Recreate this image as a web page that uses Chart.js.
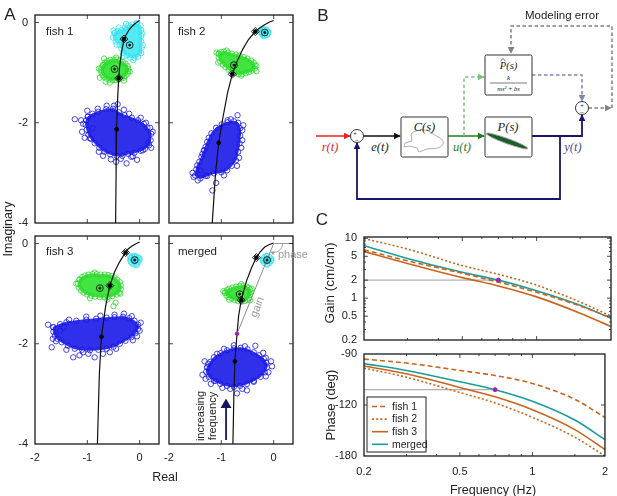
<!DOCTYPE html>
<html>
<head>
<meta charset="utf-8">
<script src="https://cdn.jsdelivr.net/npm/chart.js@4.4.1/dist/chart.umd.min.js"></script>
<style>
body { margin: 0; background: #fff; width: 617px; height: 496px; position: relative; overflow: hidden;
       font-family: "Liberation Sans", Arial, sans-serif; color: #222; }
canvas, svg { position: absolute; left: 0; top: 0; }
.t { position: absolute; white-space: nowrap; line-height: 1; }
.c { transform: translate(-50%, -50%); }
.l { transform: translate(0, -50%); }
</style>
</head>
<body>

<svg width="617" height="496" viewBox="0 0 617 496">
  <defs>
    <marker id="aRed" viewBox="0 0 10 10" refX="9" refY="5" markerWidth="7" markerHeight="7" markerUnits="userSpaceOnUse" orient="auto"><path d="M0,0 L10,5 L0,10 z" fill="#e8231f"/></marker>
    <marker id="aBlk" viewBox="0 0 10 10" refX="9" refY="5" markerWidth="7" markerHeight="7" markerUnits="userSpaceOnUse" orient="auto"><path d="M0,0 L10,5 L0,10 z" fill="#111"/></marker>
    <marker id="aGrn" viewBox="0 0 10 10" refX="9" refY="5" markerWidth="7" markerHeight="7" markerUnits="userSpaceOnUse" orient="auto"><path d="M0,0 L10,5 L0,10 z" fill="#1f7a1f"/></marker>
    <marker id="aLgr" viewBox="0 0 10 10" refX="9" refY="5" markerWidth="7" markerHeight="7" markerUnits="userSpaceOnUse" orient="auto"><path d="M0,0 L10,5 L0,10 z" fill="#80bf80"/></marker>
    <marker id="aNav" viewBox="0 0 10 10" refX="9" refY="5" markerWidth="7" markerHeight="7" markerUnits="userSpaceOnUse" orient="auto"><path d="M0,0 L10,5 L0,10 z" fill="#16166b"/></marker>
    <marker id="aPur" viewBox="0 0 10 10" refX="9" refY="5" markerWidth="7" markerHeight="7" markerUnits="userSpaceOnUse" orient="auto"><path d="M0,0 L10,5 L0,10 z" fill="#8484b8"/></marker>
    <marker id="aGry" viewBox="0 0 10 10" refX="9" refY="5" markerWidth="7" markerHeight="7" markerUnits="userSpaceOnUse" orient="auto"><path d="M0,0 L10,5 L0,10 z" fill="#808080"/></marker>
  </defs>
  <g fill="none" stroke-width="1.5">
    <path d="M316 136 H350" stroke="#e8231f" marker-end="url(#aRed)"/>
    <path d="M363.5 136 H400" stroke="#111" marker-end="url(#aBlk)"/>
    <path d="M448 136 H484" stroke="#1f7a1f" marker-end="url(#aGrn)"/>
    <path d="M464 136 V77 H484" stroke="#80bf80" stroke-dasharray="3.5 2.5" marker-end="url(#aLgr)"/>
    <path d="M532 136 H582 V115" stroke="#16166b" stroke-width="1.8" marker-end="url(#aNav)"/>
    <path d="M560 136 V199 H357 V143" stroke="#16166b" stroke-width="1.8" marker-end="url(#aNav)"/>
    <path d="M532 75 H582 V101" stroke="#8484b8" stroke-dasharray="3.5 2.5" marker-end="url(#aPur)"/>
    <path d="M588.5 108 H611" stroke="#808080" stroke-dasharray="3.5 2.5" marker-end="url(#aGry)"/>
    <path d="M612 108 V26 H511 V53" stroke="#808080" stroke-dasharray="3.5 2.5" marker-end="url(#aGry)"/>
  </g>
  <g fill="#fff" stroke="#333" stroke-width="1">
    <rect x="485" y="55" width="47" height="40" rx="1.5"/>
    <rect x="401" y="117" width="47" height="40" rx="1.5"/>
    <rect x="485" y="117" width="47" height="40" rx="1.5"/>
    <circle cx="357" cy="136" r="6.5"/>
    <circle cx="582" cy="108" r="6.5"/>
  </g>
  <g font-family="'Liberation Sans', Arial, sans-serif" font-size="6" fill="#222" text-anchor="middle">
    <text x="355" y="135">+</text><text x="357" y="142">−</text>
    <text x="582" y="107">+</text><text x="582" y="114">−</text>
  </g>
  <path d="M411 134 C417 128 428 129 433 134 L440 138 C445 141 444 146 438 148 L427 149 L419 152 L417 148 L410 146 L404 147 L405 143 L412 141 Z"
        fill="none" stroke="#9a9a9a" stroke-width="0.8"/>
  <ellipse cx="507" cy="141" rx="22" ry="2.6" transform="rotate(20 507 141)" fill="#1d5e2a" stroke="#aaa" stroke-width="0.8"/>
  <g font-family="'Liberation Serif', 'DejaVu Serif', serif" font-style="italic" text-anchor="middle">
    <text x="424.5" y="131" font-size="12.5" fill="#222">C(s)</text>
    <text x="508" y="131" font-size="12.5" fill="#222">P(s)</text>
    <text x="508.5" y="69" font-size="10.5" fill="#222">P(s)</text>
    <text x="508.5" y="80" font-size="7" fill="#222">k</text>
    <text x="508.5" y="91" font-size="6.5" fill="#222">ms² + bs</text>
    <text x="330" y="151" font-size="12.5" fill="#e8231f">r(t)</text>
    <text x="380" y="151" font-size="12.5" fill="#222">e(t)</text>
    <text x="462" y="151" font-size="12.5" fill="#1f7a1f">u(t)</text>
    <text x="573" y="151" font-size="12.5" fill="#4a4aa0">y(t)</text>
  </g>
  <path d="M500.5 61 L503 58.6 L505.5 61" fill="none" stroke="#222" stroke-width="0.7"/>
  <path d="M490 83 H527" stroke="#222" stroke-width="0.6"/>
</svg>

<canvas id="aFish1" width="617" height="496"></canvas>
<canvas id="aFish2" width="617" height="496"></canvas>
<canvas id="aFish3" width="617" height="496"></canvas>
<canvas id="aMerged" width="617" height="496"></canvas>
<canvas id="cGain" width="617" height="496"></canvas>
<canvas id="cPhase" width="617" height="496"></canvas>

<div class="t c" style="left:10px;top:14px;font-size:17px">A</div>
<div class="t c" style="left:323px;top:15px;font-size:17px">B</div>
<div class="t c" style="left:322px;top:219px;font-size:17px">C</div>
<div class="t l" style="left:46px;top:32px;font-size:11.5px">fish 1</div>
<div class="t l" style="left:178px;top:32px;font-size:11.5px">fish 2</div>
<div class="t l" style="left:46px;top:252px;font-size:11.5px">fish 3</div>
<div class="t l" style="left:178px;top:252px;font-size:11.5px">merged</div>
<div class="t c" style="left:8px;top:229px;font-size:12.5px;transform:translate(-50%,-50%) rotate(-90deg)">Imaginary</div>
<div class="t c" style="left:165px;top:477px;font-size:12.5px">Real</div>
<div class="t l" style="left:278px;top:254px;font-size:11px;color:#999">phase</div>
<div class="t c" style="left:257px;top:307px;font-size:11px;color:#999;transform:translate(-50%,-50%) rotate(-68deg)">gain</div>
<div class="t c" style="left:200px;top:416px;font-size:11px;transform:translate(-50%,-50%) rotate(-90deg)">increasing</div>
<div class="t c" style="left:212px;top:416px;font-size:11px;transform:translate(-50%,-50%) rotate(-90deg)">frequency</div>
<div class="t c" style="left:562px;top:16px;font-size:11.5px">Modeling error</div>
<div class="t c" style="left:330px;top:283px;font-size:13.5px;transform:translate(-50%,-50%) rotate(-90deg)">Gain (cm/cm)</div>
<div class="t c" style="left:330px;top:405px;font-size:13px;transform:translate(-50%,-50%) rotate(-90deg)">Phase (deg)</div>
<div class="t c" style="left:493px;top:490px;font-size:12.5px">Frequency (Hz)</div>

<script>
// ---- panel C: Bode data ----
const freqHz = [0.2, 0.3, 0.5, 0.7, 1, 1.5, 2];
const gainFish1 = [6.4, 4.2, 2.6, 1.85, 1.25, 0.74, 0.47];
const gainFish2 = [9.9, 6.6, 3.5, 2.5, 1.65, 0.86, 0.5];
const gainFish3 = [6.0, 3.8, 2.2, 1.6, 1.05, 0.56, 0.335];
const gainMerged = [7.5, 4.6, 2.7, 2.0, 1.33, 0.76, 0.46];
const phaseFish1 = [-94.5, -98, -104.5, -109, -116, -130, -146];
const phaseFish2 = [-102.4, -110.5, -124, -133.2, -145.9, -163.4, -180];
const phaseFish3 = [-100.6, -107.5, -119.6, -127.8, -139.2, -156.7, -174.3];
const phaseMerged = [-98.5, -104.5, -114.5, -121.5, -131.7, -148.3, -165.5];
const markFreq = 0.7;
const markGain = 2;
const markPhase = -121.5;

const gainTickLabels = [0.2, 0.5, 1, 2, 5, 10];
const freqTickLabels = [0.2, 0.5, 1, 2];
const phaseTickValues = [-180, -135, -90];
const phaseTickLabels = ['-180', '-120', '-90'];
const realTicks = [-2, -1, 0];
const imagTicks = [-4, -2, 0];

// ---- panel A: complex plane data [real, imag] ----
const fish1Curve = [[0,0.04],[-0.06,0.0],[-0.13,-0.06],[-0.20,-0.14],[-0.26,-0.25],[-0.30,-0.35],[-0.34,-0.55],[-0.38,-0.85],[-0.40,-1.11],[-0.42,-1.5],[-0.44,-2.13],[-0.45,-3.0],[-0.46,-4.1]];
const fish1Dots = [[-0.30,-0.33],[-0.40,-1.11],[-0.44,-2.13]];
const fish1Diamonds = [[-0.30,-0.33],[-0.40,-1.11]];
const fish1Means = [[-0.19,-0.45],[-0.48,-0.93]];
const fish1BluePoly = [[-0.99,-1.88],[-0.90,-1.82],[-0.79,-1.78],[-0.64,-1.73],[-0.51,-1.72],[-0.40,-1.79],[-0.29,-1.85],[-0.15,-1.90],[-0.03,-1.95],[0.08,-2.02],[0.15,-2.10],[0.22,-2.22],[0.21,-2.35],[0.18,-2.45],[0.10,-2.52],[0.02,-2.56],[-0.10,-2.60],[-0.22,-2.62],[-0.33,-2.66],[-0.44,-2.66],[-0.56,-2.63],[-0.67,-2.58],[-0.77,-2.50],[-0.86,-2.41],[-0.93,-2.32],[-0.98,-2.24],[-1.01,-2.14],[-1.03,-2.04],[-1.02,-1.95]];
const fish1BlueOut = [[-1.24,-1.93],[-0.25,-2.81],[-0.49,-1.66],[-0.63,-1.66],[-1.08,-2.02],[-0.95,-2.31],[-0.70,-2.66],[-0.36,-2.72],[-0.13,-2.67],[0.06,-2.55],[0.25,-2.18],[0.12,-2.00],[-0.80,-1.72],[-0.90,-2.11],[-0.42,-1.63],[-1.10,-2.18],[0.17,-2.40],[-0.55,-2.73],[0.02,-1.90],[-0.20,-1.82],[-1.05,-2.30],[-0.16,-2.68],[-1.0,-1.76],[-0.30,-1.74],[0.20,-2.10],[0.22,-2.50],[-0.78,-2.58],[-0.45,-2.78],[-1.12,-1.95],[-0.05,-2.74]];
const fish1GreenPoly = [[-0.70,-0.85],[-0.66,-0.80],[-0.62,-0.77],[-0.56,-0.75],[-0.50,-0.74],[-0.44,-0.74],[-0.38,-0.76],[-0.32,-0.79],[-0.27,-0.82],[-0.23,-0.87],[-0.22,-0.92],[-0.22,-0.97],[-0.23,-1.02],[-0.27,-1.06],[-0.30,-1.10],[-0.35,-1.12],[-0.40,-1.14],[-0.46,-1.15],[-0.52,-1.15],[-0.58,-1.14],[-0.63,-1.12],[-0.68,-1.08],[-0.71,-1.05],[-0.73,-1.00],[-0.74,-0.95],[-0.73,-0.90]];
const fish1GreenOut = [[-0.76,-1.10],[-0.68,-0.72],[-0.30,-1.16],[-0.78,-0.92],[-0.45,-0.70],[-0.19,-0.98],[-0.57,-1.20],[-0.65,-1.18]];
const fish1CyanPoly = [[-0.48,-0.21],[-0.42,-0.17],[-0.35,-0.15],[-0.28,-0.10],[-0.22,-0.06],[-0.14,-0.04],[-0.06,-0.03],[0.02,-0.06],[0.03,-0.15],[0.03,-0.27],[0.03,-0.38],[0.04,-0.50],[0.03,-0.61],[-0.03,-0.68],[-0.10,-0.71],[-0.18,-0.70],[-0.25,-0.66],[-0.32,-0.61],[-0.35,-0.52],[-0.38,-0.45],[-0.46,-0.38],[-0.51,-0.30]];
const fish1CyanOut = [[-0.50,-0.16],[-0.40,-0.10],[-0.05,0.00],[0.05,-0.22],[0.06,-0.45],[-0.12,-0.75],[-0.30,-0.67],[-0.44,-0.44],[-0.26,-0.03]];

const fish2Curve = [[0,0.04],[-0.08,0.01],[-0.18,-0.05],[-0.28,-0.12],[-0.35,-0.18],[-0.48,-0.34],[-0.60,-0.55],[-0.70,-0.78],[-0.79,-1.03],[-0.88,-1.4],[-0.97,-1.9],[-1.05,-2.4],[-1.11,-3.0],[-1.18,-4.1]];
const fish2Dots = [[-0.35,-0.18],[-0.79,-1.03],[-1.05,-2.4]];
const fish2Diamonds = [[-0.35,-0.18],[-0.79,-1.03]];
const fish2Means = [[-0.17,-0.2],[-0.76,-0.85]];
const fish2BluePoly = [[-1.33,-2.55],[-1.27,-2.38],[-1.19,-2.21],[-1.10,-2.10],[-0.99,-2.03],[-0.88,-1.99],[-0.76,-1.97],[-0.68,-2.00],[-0.64,-2.11],[-0.64,-2.26],[-0.65,-2.41],[-0.68,-2.58],[-0.72,-2.75],[-0.80,-2.86],[-0.89,-2.95],[-1.00,-2.99],[-1.14,-3.01],[-1.27,-3.06],[-1.40,-3.11],[-1.50,-3.05],[-1.48,-2.93],[-1.46,-2.85],[-1.42,-2.78],[-1.38,-2.68]];
const fish2BlueOut = [[-1.53,-3.08],[-1.45,-3.15],[-1.17,-3.35],[-1.10,-3.20],[-0.69,-1.85],[-0.60,-2.15],[-0.82,-1.93],[-0.62,-2.50],[-0.70,-2.86],[-1.30,-3.06],[-1.30,-2.48],[-1.40,-2.95],[-0.58,-2.05],[-1.24,-2.30],[-1.36,-2.62],[-0.60,-2.35],[-0.66,-2.70],[-0.95,-3.05],[-1.55,-3.00],[-0.88,-1.95]];
const fish2GreenPoly = [[-1.05,-0.62],[-1.00,-0.59],[-0.95,-0.58],[-0.87,-0.60],[-0.80,-0.62],[-0.72,-0.64],[-0.65,-0.66],[-0.57,-0.69],[-0.50,-0.72],[-0.43,-0.76],[-0.38,-0.80],[-0.36,-0.86],[-0.36,-0.92],[-0.41,-0.96],[-0.47,-0.99],[-0.53,-1.01],[-0.60,-1.03],[-0.67,-1.03],[-0.74,-1.01],[-0.80,-0.98],[-0.86,-0.94],[-0.92,-0.89],[-0.97,-0.84],[-1.02,-0.78],[-1.05,-0.70]];
const fish2GreenOut = [[-1.09,-0.60],[-0.33,-0.97],[-0.33,-0.86],[-0.62,-1.06],[-0.90,-0.56],[-1.06,-0.80]];
const fish2CyanPoly = [[-0.17,-0.14],[-0.13,-0.15],[-0.11,-0.18],[-0.11,-0.22],[-0.13,-0.25],[-0.17,-0.26],[-0.21,-0.25],[-0.23,-0.22],[-0.23,-0.18],[-0.21,-0.15]];
const fish2CyanOut = [[-0.10,-0.20],[-0.19,-0.27],[-0.24,-0.20]];

const fish3Curve = [[0,0.03],[-0.08,-0.01],[-0.16,-0.06],[-0.22,-0.11],[-0.27,-0.18],[-0.38,-0.36],[-0.48,-0.57],[-0.57,-0.84],[-0.65,-1.25],[-0.73,-1.86],[-0.77,-2.6],[-0.81,-4.1]];
const fish3Dots = [[-0.27,-0.18],[-0.57,-0.84],[-0.73,-1.86]];
const fish3Diamonds = [[-0.27,-0.18],[-0.57,-0.84]];
const fish3Means = [[-0.095,-0.33],[-0.76,-0.89]];
const fish3BluePoly = [[-1.65,-1.67],[-1.52,-1.61],[-1.40,-1.57],[-1.21,-1.54],[-1.02,-1.52],[-0.83,-1.50],[-0.63,-1.48],[-0.48,-1.47],[-0.32,-1.46],[-0.20,-1.49],[-0.10,-1.54],[-0.03,-1.62],[-0.03,-1.70],[-0.08,-1.79],[-0.16,-1.87],[-0.27,-1.94],[-0.38,-2.00],[-0.50,-2.06],[-0.63,-2.10],[-0.79,-2.12],[-0.95,-2.13],[-1.10,-2.12],[-1.24,-2.10],[-1.37,-2.04],[-1.49,-1.97],[-1.57,-1.90],[-1.62,-1.84],[-1.65,-1.76]];
const fish3BlueOut = [[-1.68,-2.07],[-1.66,-1.90],[-1.27,-2.27],[-1.15,-2.23],[-0.86,-2.27],[-0.57,-2.17],[-0.13,-1.93],[0.0,-1.74],[-0.48,-1.42],[-1.02,-1.46],[-1.45,-1.67],[-1.08,-2.17],[-1.52,-1.74],[-0.30,-1.40],[-0.70,-2.20],[0.02,-1.58],[-1.75,-1.62],[-1.35,-1.52],[-0.75,-1.44],[-0.15,-1.45],[-0.05,-1.85],[-0.45,-2.10],[-0.98,-2.20],[-1.40,-2.12],[-1.60,-1.95]];
const fish3GreenPoly = [[-1.15,-0.72],[-1.10,-0.67],[-1.05,-0.64],[-0.98,-0.62],[-0.90,-0.61],[-0.82,-0.61],[-0.75,-0.62],[-0.67,-0.62],[-0.60,-0.63],[-0.54,-0.65],[-0.48,-0.68],[-0.43,-0.72],[-0.38,-0.77],[-0.36,-0.84],[-0.36,-0.91],[-0.39,-0.98],[-0.44,-1.02],[-0.52,-1.05],[-0.60,-1.06],[-0.68,-1.07],[-0.76,-1.07],[-0.85,-1.06],[-0.93,-1.04],[-1.00,-1.02],[-1.07,-0.98],[-1.12,-0.94],[-1.16,-0.88],[-1.18,-0.80]];
const fish3GreenOut = [[-1.21,-0.80],[-0.46,-1.18],[-0.50,-1.25],[-0.37,-1.00],[-0.95,-1.09],[-0.62,-1.12],[-0.86,-0.58]];
const fish3CyanPoly = [[-0.10,-0.25],[-0.05,-0.26],[-0.02,-0.29],[-0.01,-0.33],[-0.02,-0.37],[-0.05,-0.40],[-0.10,-0.42],[-0.14,-0.40],[-0.17,-0.37],[-0.18,-0.33],[-0.17,-0.29],[-0.14,-0.26]];
const fish3CyanOut = [[-0.18,-0.26],[0.0,-0.30],[-0.06,-0.43]];

const mergedCurve = [[0,0.01],[-0.08,-0.02],[-0.17,-0.07],[-0.26,-0.17],[-0.33,-0.28],[-0.42,-0.48],[-0.52,-0.75],[-0.62,-1.13],[-0.67,-1.45],[-0.70,-1.80],[-0.74,-2.35],[-0.76,-3.0],[-0.78,-4.1]];
const mergedDots = [[-0.33,-0.28],[-0.62,-1.13],[-0.74,-2.35]];
const mergedDiamonds = [[-0.33,-0.28],[-0.62,-1.13]];
const mergedMeans = [[-0.126,-0.33],[-0.65,-1.01]];
const mergedBluePoly = [[-1.27,-2.47],[-1.21,-2.36],[-1.14,-2.27],[-1.02,-2.19],[-0.89,-2.13],[-0.76,-2.09],[-0.63,-2.08],[-0.50,-2.11],[-0.38,-2.17],[-0.28,-2.23],[-0.19,-2.30],[-0.14,-2.38],[-0.13,-2.47],[-0.17,-2.57],[-0.25,-2.66],[-0.38,-2.74],[-0.51,-2.80],[-0.64,-2.84],[-0.76,-2.86],[-0.89,-2.84],[-1.02,-2.80],[-1.14,-2.74],[-1.24,-2.66],[-1.29,-2.56]];
const mergedBlueOut = [[-1.36,-2.62],[-1.32,-2.35],[-0.35,-2.04],[-0.05,-2.35],[-0.10,-2.57],[-0.51,-2.93],[-0.70,-2.99],[-0.83,-2.90],[-1.11,-2.74],[-0.38,-2.76],[-0.76,-2.03],[-1.08,-2.20],[-0.03,-2.45],[-0.20,-2.18],[-1.20,-2.80],[-1.25,-2.40],[-0.95,-2.10],[-0.55,-2.05],[-0.15,-2.28],[-0.15,-2.65],[-0.60,-2.90],[-0.98,-2.88],[-1.30,-2.70]];
const mergedGreenPoly = [[-0.93,-0.98],[-0.89,-0.93],[-0.85,-0.90],[-0.79,-0.88],[-0.72,-0.86],[-0.65,-0.85],[-0.58,-0.84],[-0.52,-0.86],[-0.48,-0.88],[-0.45,-0.92],[-0.44,-0.97],[-0.45,-1.02],[-0.47,-1.08],[-0.51,-1.12],[-0.55,-1.15],[-0.61,-1.16],[-0.68,-1.15],[-0.74,-1.13],[-0.80,-1.10],[-0.86,-1.07],[-0.90,-1.04]];
const mergedGreenOut = [[-0.96,-0.95],[-0.62,-0.81],[-0.45,-1.13],[-0.85,-1.12],[-0.42,-0.90]];
const mergedCyanPoly = [[-0.13,-0.25],[-0.08,-0.27],[-0.05,-0.30],[-0.05,-0.35],[-0.08,-0.39],[-0.13,-0.41],[-0.18,-0.39],[-0.20,-0.35],[-0.20,-0.30],[-0.18,-0.27]];
const mergedCyanOut = [[-0.04,-0.33],[-0.21,-0.33],[-0.12,-0.42]];
const mergedGainLine = [[0, 0], [-0.70, -1.80]];
const mergedPhaseRef = [[0, 0], [0.37, 0]];
const mergedPurple = [[-0.70, -1.80]];
const freqArrow = [[-0.91, -3.92], [-0.91, -3.22]];

// ---- styling ----
const W = 617, H = 496;
const Y_AXIS_W = 32, X_AXIS_H = 22;
const BLUE = '#1616e8', BLUE_FILL = 'rgba(26,26,232,0.9)';
const GREEN = '#2ad82a', GREEN_FILL = 'rgba(52,226,52,0.93)';
const CYAN = '#2fe0ee', CYAN_FILL = 'rgba(70,232,242,0.93)';
const ORANGE = '#c8651e', TEAL = '#1b9c9c', PURPLE = '#a020b0', NAVY = '#151560';

Chart.defaults.font.family = '"Liberation Sans", Arial, sans-serif';
Chart.defaults.font.size = 11;
Chart.defaults.color = '#222';

function pts(list) {
    return list.map(p => ({x: p[0], y: p[1]}));
}

// padding so that the plot box lands on [left, top, right, bottom]
function pad(area) {
    return {left: area[0] - Y_AXIS_W, top: area[1], right: W - area[2], bottom: H - area[3] - X_AXIS_H};
}

// frame + inward tick marks
const boxPlugin = {
    id: 'box',
    afterDraw(chart) {
        const {ctx, chartArea: a} = chart;
        const sx = chart.scales.x, sy = chart.scales.y;
        ctx.save();
        ctx.strokeStyle = '#1a1a1a';
        ctx.lineWidth = 0.8;
        ctx.beginPath();
        sx.ticks.forEach(t => {
            const p = sx.getPixelForValue(t.value);
            if (p < a.left + 1 || p > a.right - 1) return;
            const len = t.label ? 4 : 2;
            ctx.moveTo(p, a.bottom); ctx.lineTo(p, a.bottom - len);
            ctx.moveTo(p, a.top); ctx.lineTo(p, a.top + len);
        });
        sy.ticks.forEach(t => {
            const p = sy.getPixelForValue(t.value);
            if (p < a.top + 1 || p > a.bottom - 1) return;
            const len = t.label ? 4 : 2;
            ctx.moveTo(a.left, p); ctx.lineTo(a.left + len, p);
            ctx.moveTo(a.right, p); ctx.lineTo(a.right - len, p);
        });
        ctx.stroke();
        ctx.lineWidth = 1.3;
        ctx.strokeRect(a.left, a.top, a.width, a.height);
        ctx.restore();
    }
};

// little arc with arrow for the phase angle
const phaseArcPlugin = {
    id: 'phaseArc',
    afterDatasetsDraw(chart, args, o) {
        if (!o.to) return;
        const sx = chart.scales.x, sy = chart.scales.y, ctx = chart.ctx;
        const cx = sx.getPixelForValue(o.from[0]), cy = sy.getPixelForValue(o.from[1]);
        const tx = sx.getPixelForValue(o.to[0]), ty = sy.getPixelForValue(o.to[1]);
        const ang = Math.atan2(ty - cy, tx - cx);
        ctx.save();
        ctx.strokeStyle = '#999';
        ctx.fillStyle = '#999';
        ctx.lineWidth = 0.9;
        ctx.beginPath();
        ctx.arc(cx, cy, o.r, 0.05, ang - 0.25);
        ctx.stroke();
        const ex = cx + o.r * Math.cos(ang), ey = cy + o.r * Math.sin(ang);
        const dir = ang + Math.PI / 2;
        ctx.beginPath();
        ctx.moveTo(ex, ey);
        ctx.lineTo(ex - 4 * Math.cos(dir) + 2 * Math.cos(ang), ey - 4 * Math.sin(dir) + 2 * Math.sin(ang));
        ctx.lineTo(ex - 4 * Math.cos(dir) - 2 * Math.cos(ang), ey - 4 * Math.sin(dir) - 2 * Math.sin(ang));
        ctx.closePath();
        ctx.fill();
        ctx.restore();
    }
};

const insetLegend = {
    id: 'insetLegend',
    afterDraw(chart, args, o) {
        if (!o.box) return;
        const ctx = chart.ctx;
        const [x0, y0, x1, y1] = o.box;
        ctx.save();
        ctx.fillStyle = '#fff';
        ctx.fillRect(x0, y0, x1 - x0, y1 - y0);
        ctx.strokeStyle = '#222';
        ctx.lineWidth = 1;
        ctx.strokeRect(x0, y0, x1 - x0, y1 - y0);
        chart.data.datasets.slice(0, o.count).forEach((ds, i) => {
            const y = y0 + 9.5 + i * 12.6;
            ctx.strokeStyle = ds.borderColor;
            ctx.lineWidth = ds.borderWidth;
            ctx.setLineDash(ds.borderDash || []);
            ctx.beginPath();
            ctx.moveTo(x0 + 5, y);
            ctx.lineTo(x0 + 21, y);
            ctx.stroke();
            ctx.setLineDash([]);
            ctx.fillStyle = '#222';
            ctx.font = '10.5px "Liberation Sans", Arial, sans-serif';
            ctx.textBaseline = 'middle';
            ctx.fillText(ds.label, x0 + 25, y + 0.5);
        });
        ctx.restore();
    }
};

function cloud(poly, loose, color, fillColor, order) {
    const circle = {
        pointRadius: 2.7, pointBorderWidth: 0.8, pointBorderColor: color,
        pointBackgroundColor: 'rgba(255,255,255,0)', order: order
    };
    return [
        Object.assign({data: pts(poly.concat([poly[0]])), showLine: true, fill: 'shape',
            backgroundColor: fillColor, borderColor: fillColor, borderWidth: 1}, circle),
        Object.assign({data: pts(loose), showLine: false}, circle)
    ];
}

function nyquist(id, area, p, showX, showY, extra, arc) {
    let datasets = [
        {data: pts(p.dots), pointRadius: 1.9, pointBackgroundColor: '#000', pointBorderColor: '#000', order: 1},
        {data: pts(p.diamonds), pointStyle: 'rectRot', pointRadius: 4, pointBorderWidth: 0.9,
            pointBorderColor: '#111', pointBackgroundColor: 'rgba(255,255,255,0)', order: 2},
        {data: pts(p.means), pointRadius: 3.4, pointBorderWidth: 0.9,
            pointBorderColor: '#111', pointBackgroundColor: 'rgba(0,0,0,0)', order: 2},
        {data: pts(p.means), pointRadius: 1, pointBackgroundColor: '#111', pointBorderColor: '#111', order: 2},
        {data: pts(p.curve), showLine: true, borderColor: '#111', borderWidth: 1.2, pointRadius: 0, order: 5}
    ];
    datasets = datasets.concat(cloud(p.bluePoly, p.blueOut, BLUE, BLUE_FILL, 30));
    datasets = datasets.concat(cloud(p.greenPoly, p.greenOut, GREEN, GREEN_FILL, 25));
    datasets = datasets.concat(cloud(p.cyanPoly, p.cyanOut, CYAN, CYAN_FILL, 20));
    if (extra) datasets = datasets.concat(extra);

    new Chart(document.getElementById(id), {
        type: 'scatter',
        data: {datasets: datasets},
        options: {
            responsive: false, animation: false, events: [],
            layout: {padding: pad(area)},
            plugins: {legend: {display: false}, tooltip: {enabled: false}, phaseArc: arc || {}},
            scales: {
                x: {
                    type: 'linear', min: -2, max: 0.37,
                    grid: {display: false, drawTicks: false}, border: {display: false},
                    afterBuildTicks: s => { s.ticks = realTicks.map(v => ({value: v})); },
                    ticks: {display: showX, padding: 7, maxRotation: 0, callback: v => String(v)},
                    afterFit: s => { s.height = X_AXIS_H; }
                },
                y: {
                    type: 'linear', min: -4, max: 0.15,
                    grid: {display: false, drawTicks: false}, border: {display: false},
                    afterBuildTicks: s => { s.ticks = imagTicks.map(v => ({value: v})); },
                    ticks: {display: showY, padding: 7, callback: v => String(v)},
                    afterFit: s => { s.width = Y_AXIS_W; }
                }
            }
        },
        plugins: [boxPlugin, phaseArcPlugin]
    });
}

nyquist('aFish1', [35, 15, 159, 223], {
    curve: fish1Curve, dots: fish1Dots, diamonds: fish1Diamonds, means: fish1Means,
    bluePoly: fish1BluePoly, blueOut: fish1BlueOut, greenPoly: fish1GreenPoly, greenOut: fish1GreenOut,
    cyanPoly: fish1CyanPoly, cyanOut: fish1CyanOut
}, false, true);

nyquist('aFish2', [169, 15, 293, 223], {
    curve: fish2Curve, dots: fish2Dots, diamonds: fish2Diamonds, means: fish2Means,
    bluePoly: fish2BluePoly, blueOut: fish2BlueOut, greenPoly: fish2GreenPoly, greenOut: fish2GreenOut,
    cyanPoly: fish2CyanPoly, cyanOut: fish2CyanOut
}, false, false);

nyquist('aFish3', [35, 236, 159, 444], {
    curve: fish3Curve, dots: fish3Dots, diamonds: fish3Diamonds, means: fish3Means,
    bluePoly: fish3BluePoly, blueOut: fish3BlueOut, greenPoly: fish3GreenPoly, greenOut: fish3GreenOut,
    cyanPoly: fish3CyanPoly, cyanOut: fish3CyanOut
}, true, true);

nyquist('aMerged', [169, 236, 293, 444], {
    curve: mergedCurve, dots: mergedDots, diamonds: mergedDiamonds, means: mergedMeans,
    bluePoly: mergedBluePoly, blueOut: mergedBlueOut, greenPoly: mergedGreenPoly, greenOut: mergedGreenOut,
    cyanPoly: mergedCyanPoly, cyanOut: mergedCyanOut
}, true, false, [
    {data: pts(mergedGainLine), showLine: true, borderColor: '#8c8c8c', borderWidth: 1, pointRadius: 0, order: 4},
    {data: pts(mergedPhaseRef), showLine: true, borderColor: '#999', borderWidth: 1, pointRadius: 0, order: 4},
    {data: pts(mergedPurple), pointRadius: 1.8, pointBackgroundColor: PURPLE, pointBorderColor: PURPLE, order: 0},
    {data: pts(freqArrow), showLine: true, borderColor: NAVY, borderWidth: 1.8, pointStyle: 'triangle',
        pointRadius: [0, 4.5], pointBackgroundColor: NAVY, pointBorderColor: NAVY, order: 0}
], {from: mergedGainLine[0], to: mergedGainLine[1], r: 9});

// ---- panel C ----
function bodeLine(label, values, color, dash) {
    return {
        label: label, data: freqHz.map((f, i) => ({x: f, y: values[i]})),
        borderColor: color, borderDash: dash, borderWidth: 1.6, pointRadius: 0,
        cubicInterpolationMode: 'monotone', fill: false
    };
}

function hasLabel(list, v) {
    return list.some(l => Math.abs(l - v) < 1e-6);
}

const freqAxis = (showLabels) => ({
    type: 'logarithmic', min: 0.2, max: 2,
    grid: {display: false, drawTicks: false}, border: {display: false},
    ticks: {display: showLabels, padding: 9, autoSkip: false, maxRotation: 0,
        callback: v => hasLabel(freqTickLabels, v) ? String(v) : ''},
    afterFit: s => { s.height = X_AXIS_H; }
});

new Chart(document.getElementById('cGain'), {
    type: 'line',
    data: {datasets: [
        bodeLine('fish 1', gainFish1, ORANGE, [5, 3]),
        bodeLine('fish 2', gainFish2, ORANGE, [2, 2.2]),
        bodeLine('fish 3', gainFish3, ORANGE, []),
        bodeLine('merged', gainMerged, TEAL, []),
        {data: [{x: 0.2, y: markGain}, {x: markFreq, y: markGain}], borderColor: '#b0b0b0', borderWidth: 1.2, pointRadius: 0, order: 10},
        {data: [{x: markFreq, y: markGain}], pointRadius: 2, pointBackgroundColor: PURPLE, pointBorderColor: PURPLE, showLine: false, order: -1}
    ]},
    options: {
        responsive: false, animation: false, events: [],
        layout: {padding: pad([364, 237, 611, 340])},
        plugins: {legend: {display: false}, tooltip: {enabled: false}},
        scales: {
            x: freqAxis(false),
            y: {
                type: 'logarithmic', min: 0.2, max: 10.5,
                grid: {display: false, drawTicks: false}, border: {display: false},
                ticks: {padding: 7, autoSkip: false,
                    callback: v => hasLabel(gainTickLabels, v) ? String(v) : ''},
                afterFit: s => { s.width = Y_AXIS_W; }
            }
        }
    },
    plugins: [boxPlugin]
});

new Chart(document.getElementById('cPhase'), {
    type: 'line',
    data: {datasets: [
        bodeLine('fish 1', phaseFish1, ORANGE, [5, 3]),
        bodeLine('fish 2', phaseFish2, ORANGE, [2, 2.2]),
        bodeLine('fish 3', phaseFish3, ORANGE, []),
        bodeLine('merged', phaseMerged, TEAL, []),
        {data: [{x: 0.2, y: markPhase}, {x: markFreq, y: markPhase}], borderColor: '#b0b0b0', borderWidth: 1.2, pointRadius: 0, order: 10},
        {data: [{x: markFreq, y: markPhase}], pointRadius: 2, pointBackgroundColor: PURPLE, pointBorderColor: PURPLE, showLine: false, order: -1}
    ]},
    options: {
        responsive: false, animation: false, events: [],
        layout: {padding: pad([364, 354, 611, 456])},
        plugins: {legend: {display: false}, tooltip: {enabled: false},
            insetLegend: {box: [367, 397, 426, 452], count: 4}},
        scales: {
            x: freqAxis(true),
            y: {
                type: 'linear', min: -180, max: -90,
                grid: {display: false, drawTicks: false}, border: {display: false},
                afterBuildTicks: s => { s.ticks = phaseTickValues.map(v => ({value: v})); },
                ticks: {padding: 7, callback: (v, i) => phaseTickLabels[i]},
                afterFit: s => { s.width = Y_AXIS_W; }
            }
        }
    },
    plugins: [boxPlugin, insetLegend]
});
</script>
</body>
</html>
